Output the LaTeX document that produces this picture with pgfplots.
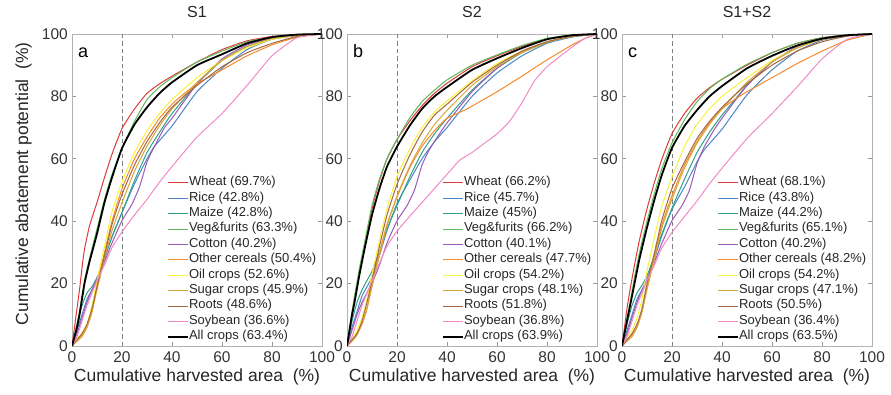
\documentclass[border=0pt]{standalone}
\usepackage{fontspec}
\setmainfont{Liberation Sans}
\usepackage{pgfplots}
\pgfplotsset{compat=1.18}
\definecolor{cWheat}{HTML}{E0393B}
\definecolor{cRice}{HTML}{4C86C6}
\definecolor{cMaize}{HTML}{2FA08A}
\definecolor{cVeg}{HTML}{5DB85A}
\definecolor{cCotton}{HTML}{9B59B6}
\definecolor{cOther}{HTML}{F58A2A}
\definecolor{cOil}{HTML}{F7F23C}
\definecolor{cSugar}{HTML}{D6A83A}
\definecolor{cRoots}{HTML}{A6673E}
\definecolor{cSoy}{HTML}{F08BC7}
\pgfplotsset{
  panel/.style={
    scale only axis, width=250pt, height=312pt,
    xmin=0, xmax=100, ymin=0, ymax=100,
    xtick={0,20,...,100}, ytick={0,20,...,100},
    tick align=inside, major tick length=4pt,
    axis line style={draw=black!30, line width=0.8pt},
    tick style={black!40, line width=0.6pt},
    /pgf/number format/assume math mode=true,
    tick label style={font=\fontsize{15.5}{16}\selectfont, text=black!80},
    xticklabel style={inner sep=0pt, yshift=-5pt},
    yticklabel style={inner sep=0pt, xshift=-4pt},
    xlabel={Cumulative harvested area\ \ (\%)},
    xlabel style={at={(axis description cs:0.5,0)}, anchor=north, inner sep=0pt, yshift=-23pt, font=\fontsize{17.5}{18}\selectfont, text=black!85},
    title style={at={(axis description cs:0.5,1)}, anchor=base, inner sep=0pt, yshift=10pt, font=\fontsize{16}{17}\selectfont, text=black!85},
    legend style={at={(rel axis cs:0.38,0.548)}, anchor=north west, draw=none, fill=none,
      font=\fontsize{13}{15}\selectfont, text=black!85, inner sep=0pt, row sep=0pt,
      nodes={inner sep=0pt, text height=10.5pt, text depth=4.9pt},
      /tikz/column 2/.style={column sep=0pt}},
    legend cell align=left,
    legend image code/.code={\draw[##1] (0pt,0pt) -- (20pt,0pt);},
  },
  pl/.style={draw=#1, line width=1pt, smooth, tension=0.3},
}
\newcommand{\panelletter}[1]{\node[anchor=base west, inner sep=0pt, font=\fontsize{18}{18}\selectfont] at ([xshift=6pt,yshift=-24pt]rel axis cs:0,1) {#1};}
\newcommand{\dashline}{\addplot[forget plot, draw=black!50, line width=1pt, dash pattern=on 4.5pt off 3pt] coordinates {(20,0) (20,100)};}
\begin{document}
\begin{tikzpicture}[x=1pt,y=1pt]
\path[use as bounding box] (0,0) rectangle (891,394);
% ---------------- Panel a ----------------
\begin{axis}[panel, at={(72pt,48pt)}, anchor=south west, title={S1},
  ylabel={Cumulative abatement potential\ \ (\%)},
  ylabel style={at={(axis description cs:0,0.52)}, anchor=south, inner sep=0pt, yshift=40pt, font=\fontsize{17.5}{18}\selectfont, text=black!85}]
\dashline
\addplot[pl=cWheat] coordinates {(0,0)(1,6)(2,12)(3,18)(4,25)(5,31)(7,38.5)(10,46)(13,54)(16,61.5)(20,69.7)(25,76)(30,81)(35,84)(40,86.5)(50,91)(60,95)(70,97.8)(80,99.2)(90,99.8)(100,100)};
\addlegendentry{Wheat (69.7\%)}
\addplot[pl=cRice] coordinates {(0,0)(2,5)(4,10)(6,15)(8,18)(10,21)(13,28)(16,35)(20,42.8)(25,52)(30,60)(33,64)(40,70.5)(50,81.5)(60,89)(70,95)(80,98.3)(90,99.5)(100,100)};
\addlegendentry{Rice (42.8\%)}
\addplot[pl=cMaize] coordinates {(0,0)(2,7)(4,13)(6,17)(8,19)(10,22)(13,28)(16,35)(20,42.8)(25,53)(30,62)(35,68.5)(40,74.5)(50,84)(60,91.5)(70,96)(80,98.6)(90,99.6)(100,100)};
\addlegendentry{Maize (42.8\%)}
\addplot[pl=cVeg] coordinates {(0,0)(1,3)(2,7)(3,11)(5,21)(7,28)(10,37.5)(13,47)(16,55)(20,63.3)(25,72)(30,79)(35,83)(40,86)(50,91)(60,94.5)(70,97.5)(80,99)(90,99.8)(100,100)};
\addlegendentry{Veg\&furits (63.3\%)}
\addplot[pl=cCotton] coordinates {(0,0)(2,4)(4,9)(6,14)(8,18)(10,21.5)(13,27)(16,33)(20,40.2)(24,45.5)(27,51)(30,59)(33,64)(37,70)(40,73)(50,84)(60,92)(70,96.5)(80,98.8)(90,99.6)(100,100)};
\addlegendentry{Cotton (40.2\%)}
\addplot[pl=cOther] coordinates {(0,0)(2,2)(4,3.5)(6,6)(8,11)(10,20)(13,30)(16,40)(20,50.4)(25,60)(30,67)(35,73)(40,77.5)(45,81)(50,84)(60,88.5)(70,93)(80,96.5)(90,99)(100,100)};
\addlegendentry{Other cereals (50.4\%)}
\addplot[pl=cOil] coordinates {(0,0)(2,2.5)(4,4)(6,7)(8,13)(10,21)(13,32)(16,43)(20,52.6)(25,62)(30,69)(35,74.5)(40,79)(50,86)(60,91.5)(70,95.5)(80,98.3)(90,99.6)(100,100)};
\addlegendentry{Oil crops (52.6\%)}
\addplot[pl=cSugar] coordinates {(0,0)(2,1.5)(4,3)(6,6)(8,11)(10,18)(13,28)(16,37)(20,45.9)(25,56)(30,64)(35,70.5)(40,76)(50,84.5)(60,91.5)(70,96)(80,98.5)(90,99.6)(100,100)};
\addlegendentry{Sugar crops (45.9\%)}
\addplot[pl=cRoots] coordinates {(0,0)(2,2)(4,4)(6,7)(8,12)(10,19)(13,29)(16,39)(20,48.6)(25,58)(30,65.5)(35,71.5)(40,76.5)(50,83.5)(60,89.5)(70,94)(80,97)(90,99.2)(100,100)};
\addlegendentry{Roots (48.6\%)}
\addplot[pl=cSoy] coordinates {(0,0)(2,3)(4,8)(6,13)(8,17)(10,21)(13,26)(16,31.5)(20,36.6)(25,42)(30,47)(35,52.5)(40,57.5)(50,67)(60,74.5)(70,83.5)(80,93)(90,98.8)(100,100)};
\addlegendentry{Soybean (36.6\%)}
\addplot[draw=black, line width=1.8pt, smooth, tension=0.3] coordinates {(0,0)(1,3)(2,6)(3,10)(5,20)(7,27)(10,36)(13,46)(16,54)(20,63.4)(25,71)(30,76.5)(35,81)(40,84.5)(50,90)(60,93.5)(70,97)(80,99)(90,99.8)(100,100)};
\addlegendentry{All crops (63.4\%)}
\panelletter{a}
\end{axis}
% ---------------- Panel b ----------------
\begin{axis}[panel, at={(347pt,48pt)}, anchor=south west, title={S2}]
\dashline
\addplot[pl=cWheat] coordinates {(0,0)(1,4)(2,9)(3,14)(5,23)(7,32)(10,44)(13,53)(16,60)(20,66.2)(25,72)(30,77)(35,81)(40,84.2)(50,89.5)(60,93)(70,96)(80,98.5)(90,99.6)(100,100)};
\addlegendentry{Wheat (66.2\%)}
\addplot[pl=cRice] coordinates {(0,0)(2,6)(4,11)(6,16)(8,19)(10,22)(13,29)(16,37)(20,45.7)(25,53)(30,60)(35,65.5)(40,70)(50,80)(60,87.5)(70,93)(80,97)(90,99)(100,100)};
\addlegendentry{Rice (45.7\%)}
\addplot[pl=cMaize] coordinates {(0,0)(2,8)(4,14)(6,18)(8,21)(10,24)(13,30)(16,37.5)(20,45)(25,54)(30,62)(35,68)(40,73)(50,82)(60,89)(70,94)(80,97.3)(90,99.2)(100,100)};
\addlegendentry{Maize (45\%)}
\addplot[pl=cVeg] coordinates {(0,0)(1,6)(2,11)(3,16)(5,25)(7,33)(10,45)(13,53.5)(16,60)(20,66.2)(25,73)(30,78.3)(35,82)(40,85.3)(50,90)(60,93.3)(70,96.3)(80,98.6)(90,99.7)(100,100)};
\addlegendentry{Veg\&furits (66.2\%)}
\addplot[pl=cCotton] coordinates {(0,0)(2,5)(4,10)(6,14)(8,17)(10,20)(13,26)(16,33)(20,40.1)(24,45)(27,50)(30,58)(33,63)(37,68)(40,71.5)(50,81.5)(60,89)(70,94.5)(80,97.5)(90,99.3)(100,100)};
\addlegendentry{Cotton (40.1\%)}
\addplot[pl=cOther] coordinates {(0,0)(2,2)(4,4)(6,7)(8,12)(10,20)(13,30)(16,39)(20,47.7)(25,57)(30,64)(35,69)(40,73)(48,76)(60,81.5)(70,86.5)(80,91.7)(90,96.5)(95,98.5)(100,100)};
\addlegendentry{Other cereals (47.7\%)}
\addplot[pl=cOil] coordinates {(0,0)(2,2)(4,5)(6,9)(8,15)(10,23)(13,34)(16,44)(20,54.2)(25,63)(30,70)(35,75)(40,78.5)(50,85)(60,90.5)(70,94.5)(80,97.5)(90,99.3)(100,100)};
\addlegendentry{Oil crops (54.2\%)}
\addplot[pl=cSugar] coordinates {(0,0)(2,1.5)(4,3.5)(6,7)(8,12)(10,19)(13,29)(16,38.5)(20,48.1)(25,57.5)(30,65)(35,71)(40,75.5)(50,83.5)(60,89.5)(70,94)(80,97.3)(90,99.2)(100,100)};
\addlegendentry{Sugar crops (48.1\%)}
\addplot[pl=cRoots] coordinates {(0,0)(2,2)(4,4)(6,8)(8,14)(10,21)(13,32)(16,42)(20,51.8)(25,61)(30,68.5)(35,74)(40,77.5)(50,84.5)(60,90)(70,94.5)(80,97.5)(90,99.3)(100,100)};
\addlegendentry{Roots (51.8\%)}
\addplot[pl=cSoy] coordinates {(0,0)(2,3)(4,8)(6,13)(8,17)(10,21)(13,26.5)(16,32)(20,36.8)(25,41.5)(30,46)(35,50.5)(40,55)(45,59.5)(50,62)(55,65)(60,68)(65,72)(70,78)(75,85)(80,89.5)(85,92.7)(90,95.8)(95,98.5)(100,100)};
\addlegendentry{Soybean (36.8\%)}
\addplot[draw=black, line width=1.8pt, smooth, tension=0.3] coordinates {(0,0)(1,5)(2,10)(3,14)(5,23)(7,31)(10,42)(13,50.5)(16,57.5)(20,63.9)(25,70.5)(30,76)(35,80)(40,83)(50,88.5)(60,92.2)(70,95.5)(80,98.3)(90,99.6)(100,100)};
\addlegendentry{All crops (63.9\%)}
\panelletter{b}
\end{axis}
% ---------------- Panel c ----------------
\begin{axis}[panel, at={(622pt,48pt)}, anchor=south west, title={S1+S2}]
\dashline
\addplot[pl=cWheat] coordinates {(0,0)(1,6)(2,12)(3,17)(5,26)(7,34)(10,44)(13,52.5)(16,60)(20,68.1)(25,74.5)(30,79.4)(35,82.8)(40,85.5)(50,90)(60,94)(70,97)(80,98.8)(90,99.7)(100,100)};
\addlegendentry{Wheat (68.1\%)}
\addplot[pl=cRice] coordinates {(0,0)(2,5)(4,10)(6,15)(8,18)(10,21)(13,28)(16,35.5)(20,43.8)(25,51)(30,59)(33,63)(40,69.5)(50,80.5)(60,88.5)(70,94.5)(80,98)(90,99.5)(100,100)};
\addlegendentry{Rice (43.8\%)}
\addplot[pl=cMaize] coordinates {(0,0)(2,7)(4,13)(6,17)(8,19.5)(10,22.5)(13,29)(16,36)(20,44.2)(25,53.5)(30,62)(35,68.5)(40,74)(50,83.5)(60,91)(70,95.5)(80,98.5)(90,99.6)(100,100)};
\addlegendentry{Maize (44.2\%)}
\addplot[pl=cVeg] coordinates {(0,0)(1,4)(2,9)(3,13)(5,22)(7,30)(10,40)(13,49)(16,57)(20,65.1)(25,72.5)(30,78.3)(35,82.5)(40,85.5)(50,90.3)(60,94)(70,97)(80,98.8)(90,99.7)(100,100)};
\addlegendentry{Veg\&furits (65.1\%)}
\addplot[pl=cCotton] coordinates {(0,0)(2,4)(4,9)(6,14)(8,18)(10,21.5)(13,27)(16,33)(20,40.2)(24,45)(27,50)(30,58.5)(33,64)(37,69.5)(40,73)(50,83.5)(60,91)(70,96)(80,98.6)(90,99.6)(100,100)};
\addlegendentry{Cotton (40.2\%)}
\addplot[pl=cOther] coordinates {(0,0)(2,2)(4,3.5)(6,6)(8,11)(10,19)(13,29)(16,39)(20,48.2)(25,58)(30,65.5)(35,71.5)(40,76)(45,79)(50,81.5)(60,86)(70,90.5)(80,94.5)(90,98)(100,100)};
\addlegendentry{Other cereals (48.2\%)}
\addplot[pl=cOil] coordinates {(0,0)(2,3)(4,5)(6,9)(8,15)(10,24)(13,35)(16,45)(20,54.2)(25,64)(30,71)(35,76)(40,80)(50,86)(60,91.5)(70,95.5)(80,98.3)(90,99.6)(100,100)};
\addlegendentry{Oil crops (54.2\%)}
\addplot[pl=cSugar] coordinates {(0,0)(2,1.5)(4,3)(6,6)(8,11)(10,18)(13,28)(16,38)(20,47.1)(25,57)(30,65)(35,71)(40,76)(50,84.5)(60,91)(70,95.5)(80,98.3)(90,99.5)(100,100)};
\addlegendentry{Sugar crops (47.1\%)}
\addplot[pl=cRoots] coordinates {(0,0)(2,2)(4,4)(6,7)(8,12)(10,20)(13,30)(16,40.5)(20,50.5)(25,59)(30,66.5)(35,72)(40,76.5)(50,84)(60,90)(70,94.5)(80,97.5)(90,99.3)(100,100)};
\addlegendentry{Roots (50.5\%)}
\addplot[pl=cSoy] coordinates {(0,0)(2,3)(4,8)(6,13)(8,17)(10,21)(13,26)(16,31.5)(20,36.4)(25,41.5)(30,46.5)(35,52)(40,57)(50,66.5)(60,74.5)(70,83)(80,92)(90,98.3)(100,100)};
\addlegendentry{Soybean (36.4\%)}
\addplot[draw=black, line width=1.8pt, smooth, tension=0.3] coordinates {(0,0)(1,4)(2,8)(3,12)(5,20)(7,28)(10,38)(13,47)(16,55)(20,63.5)(25,70.5)(30,75.6)(35,80)(40,83.3)(50,89)(60,93)(70,96.3)(80,98.5)(90,99.6)(100,100)};
\addlegendentry{All crops (63.5\%)}
\panelletter{c}
\end{axis}
\end{tikzpicture}
\end{document}
